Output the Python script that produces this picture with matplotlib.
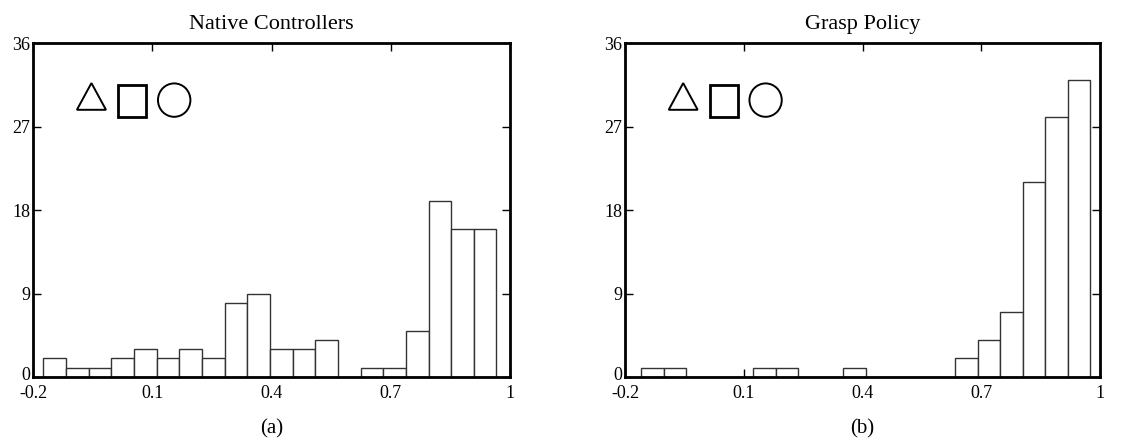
import matplotlib
matplotlib.use("Agg")
import matplotlib.pyplot as plt
import matplotlib.transforms as mtransforms
from matplotlib.patches import Polygon, Rectangle, Ellipse
import numpy as np

plt.rcParams['font.family'] = ['Liberation Serif', 'DejaVu Serif']

# Histogram data (bin counts)
native_counts = [2, 1, 1, 2, 3, 2, 3, 2, 8, 9, 3, 3, 4, 0, 1, 1, 5, 19, 16, 16]
native_bin_start = -0.174
native_bin_width = 0.057

grasp_counts = [1, 1, 0, 0, 0, 1, 1, 0, 0, 1, 0, 0, 0, 0, 2, 4, 7, 21, 28, 32]
grasp_bin_start = -0.159
grasp_bin_width = 0.0567

xticks = [-0.2, 0.1, 0.4, 0.7, 1.0]
xtick_labels = ['-0.2', '0.1', '0.4', '0.7', '1']
yticks = [0, 9, 18, 27, 36]
titles = ['Native Controllers', 'Grasp Policy']
captions = ['(a)', '(b)']

W, H = 1144, 446
fig = plt.figure(figsize=(W / 100, H / 100), dpi=100)

axes_px = [(33, 43, 477, 334), (625, 43, 475, 334)]
panels = [(native_counts, native_bin_start, native_bin_width),
          (grasp_counts, grasp_bin_start, grasp_bin_width)]

for i, ((x0, y0, w, h), (counts, start, bw)) in enumerate(zip(axes_px, panels)):
    ax = fig.add_axes([x0 / W, 1 - (y0 + h) / H, w / W, h / H])
    edges = start + bw * np.arange(len(counts))
    ax.bar(edges, counts, width=bw, align='edge', facecolor='white',
           edgecolor='#333333', linewidth=1.0, zorder=2)
    ax.set_xlim(-0.2, 1.0)
    ax.set_ylim(0, 36)
    ax.set_xticks(xticks)
    ax.set_xticklabels(xtick_labels)
    ax.set_yticks(yticks)
    ax.tick_params(direction='in', length=6, width=1.0, top=True, right=True,
                   labelsize=13)
    ax.tick_params(axis='x', pad=6)
    ax.tick_params(axis='y', pad=2)
    for sp in ax.spines.values():
        sp.set_linewidth(2.0)
        sp.set_zorder(5)
    # nudge the "0" y label up a little so it does not collide with "-0.2"
    lab0 = ax.get_yticklabels()[0]
    lab0.set_transform(lab0.get_transform() +
                       mtransforms.ScaledTranslation(0, 3 / 100, fig.dpi_scale_trans))
    ax.set_title(titles[i], fontsize=16, pad=10)
    ax.text(0.5, -0.125, captions[i], transform=ax.transAxes, ha='center',
            va='top', fontsize=15)

    # shape symbols (decorative legend-like glyphs)
    tr = ax.transAxes
    tri = Polygon([(0.092, 0.80), (0.153, 0.80), (0.1225, 0.88)], closed=True,
                  fill=False, edgecolor='black', linewidth=1.4, transform=tr, zorder=6)
    sq = Rectangle((0.178, 0.777), 0.059, 0.097, fill=False, edgecolor='black',
                   linewidth=2.0, transform=tr, zorder=6)
    circ = Ellipse((0.296, 0.829), 0.068, 0.100, fill=False, edgecolor='black',
                   linewidth=1.4, transform=tr, zorder=6)
    for p in (tri, sq, circ):
        ax.add_patch(p)

fig.savefig('out.png', dpi=100)
